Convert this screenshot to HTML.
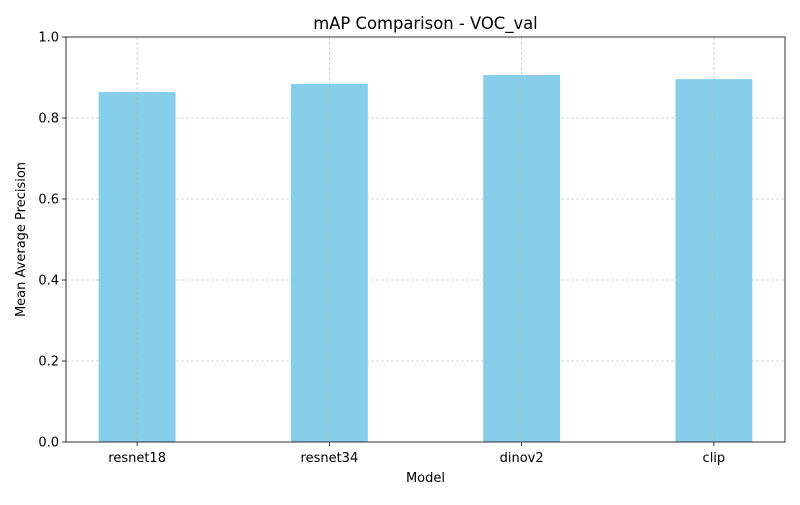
<!DOCTYPE html>
<html><head><meta charset="utf-8"><style>
body{margin:0;background:#fff;}
svg text{font-family:"DejaVu Sans","Liberation Sans",sans-serif;fill:#000;}
</style></head><body>
<svg id="chart" width="800" height="500" xmlns="http://www.w3.org/2000/svg">
<rect x="0" y="0" width="800" height="500" fill="#fff"/>
<g id="grid"></g>
<g id="bars"></g>
<g id="axes"></g>
<text x="425.5" y="29" font-size="16.4" text-anchor="middle">mAP Comparison - VOC_val</text>
<text x="425.5" y="482" font-size="13" text-anchor="middle">Model</text>
<text x="25" y="239.5" font-size="13" text-anchor="middle" transform="rotate(-90 25 239.5)">Mean Average Precision</text>
</svg>
<script>
const categories = ["resnet18","resnet34","dinov2","clip"];
const values = [0.864, 0.884, 0.906, 0.896];
const yTicks = [0.0,0.2,0.4,0.6,0.8,1.0];
const yTickLabels = ["0.0","0.2","0.4","0.6","0.8","1.0"];

const L=66,R=785,T=37,B=442;
const NS="http://www.w3.org/2000/svg";
function y(v){return B-(v-0)/(1-0)*(B-T);}
const step=(R-L)/(categories.length-1+0.74);
function x(i){return L+step*(0.37+i);}
const bw=step*0.4;
function mk(tag,attrs,parent){const e=document.createElementNS(NS,tag);for(const k in attrs)e.setAttribute(k,attrs[k]);parent.appendChild(e);return e;}
const grid=document.getElementById('grid'),bars=document.getElementById('bars'),axes=document.getElementById('axes');
yTicks.forEach((t,i)=>{
  const yy=y(t);
  if(t>0&&t<1){const g=mk('line',{x1:L,x2:R,y1:yy,y2:yy,stroke:'#b0b0b0','stroke-opacity':0.7,'stroke-width':0.8,'stroke-dasharray':'3,2'},grid);
  
  }
  const tk=mk('line',{x1:L-4,x2:L,y1:yy,y2:yy,stroke:'#000','stroke-width':0.8},axes);
  
  
  const tx=mk('text',{x:L-7,y:yy+4.5,'font-size':13,'text-anchor':'end'},axes);
  tx.textContent=yTickLabels[i];
  
  
});
categories.forEach((c,i)=>{
  const cx=x(i);
  const b=mk('rect',{x:cx-bw/2,y:y(values[i]),width:bw,height:B-y(values[i]),fill:'#87ceeb'},bars);
  
  
  const g=mk('line',{x1:cx,x2:cx,y1:T,y2:B,stroke:'#b0b0b0','stroke-opacity':0.7,'stroke-width':0.8,'stroke-dasharray':'3,2'},bars);
  
  
  const tk=mk('line',{x1:cx,x2:cx,y1:B,y2:B+4,stroke:'#000','stroke-width':0.8},axes);
  
  
  const tx=mk('text',{x:cx,y:B+20,'font-size':13,'text-anchor':'middle'},axes);
  tx.textContent=c;
  
  
});
const fr=mk('rect',{x:L,y:T,width:R-L,height:B-T,fill:'none',stroke:'#000','stroke-width':0.8},axes);


</script>
</body></html>
